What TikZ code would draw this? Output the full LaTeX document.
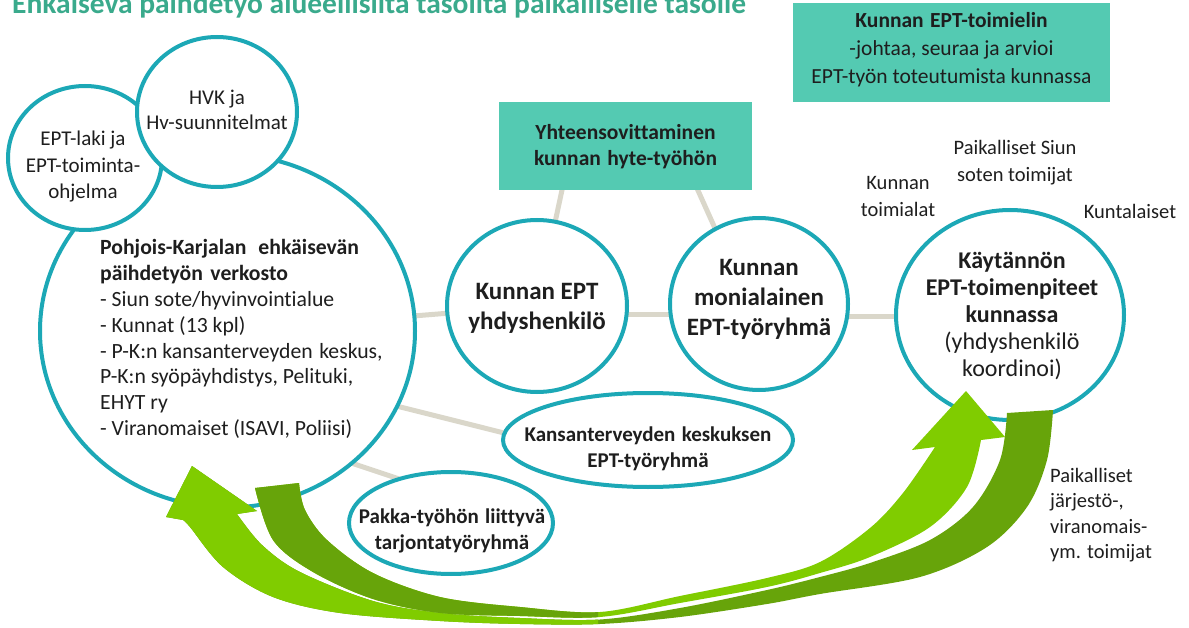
\documentclass[tikz,border=0pt]{standalone}
\usepackage{fontspec}
\setmainfont{Carlito}[Ligatures=NoCommon]
\usetikzlibrary{shapes.geometric,backgrounds}
\definecolor{cteal}{RGB}{28,168,182}
\definecolor{cbox}{RGB}{84,202,178}
\definecolor{cconn}{RGB}{218,215,202}
\definecolor{ctext}{RGB}{30,30,30}
\definecolor{ctitle}{RGB}{58,170,140}
\definecolor{glight}{RGB}{128,204,0}
\definecolor{gdark}{RGB}{103,164,10}
\newcommand{\myfs}[2]{\fontsize{#1}{#2}\selectfont}
\begin{document}
\begin{tikzpicture}[x=1pt,y=-1pt,
  circ/.style={ellipse, draw=cteal, line width=4pt, fill=white, inner sep=0pt},
  tbox/.style={rectangle, fill=cbox, inner sep=0pt},
  conn/.style={draw=cconn, line width=5pt},
  txt/.style={text=ctext, inner sep=0pt, align=center},
  lbl/.style={text=ctext, inner sep=0pt, align=center, font=\myfs{20.5}{27}}]
\useasboundingbox (0,0) rectangle (1189,628);
\clip (0,0) rectangle (1189,628);

% title (cut at the top, as in the reference)
\node[anchor=base west, inner sep=0pt, text=ctitle, font=\myfs{29.5}{34}\bfseries] (title) at (12,14)
  {Ehkäisevä päihdetyö alueellisilta tasoilta paikalliselle tasolle};

% shapes
\node[circ, minimum width=375, minimum height=353] (big) at (227.5,331) {};
\node[circ, minimum width=154, minimum height=144] (law) at (85,158) {};
\node[circ, minimum width=160, minimum height=150] (hvk) at (217,112) {};
\node[tbox, minimum width=253, minimum height=88] (yht) at (625.5,146) {};
\node[tbox, minimum width=317, minimum height=99] (toim) at (951.5,52.5) {};
\node[circ, minimum width=180, minimum height=172] (yhd) at (537,306) {};
\node[circ, minimum width=178, minimum height=172] (moni) at (759,304) {};
\node[circ, minimum width=228, minimum height=210] (kay) at (1010,315) {};
\node[circ, minimum width=290, minimum height=94] (kans) at (648,440) {};
\node[circ, minimum width=204, minimum height=102] (pakka) at (451,523) {};

% connectors
\begin{pgfonlayer}{background}
\draw[conn] (big.center) -- (yhd.center);
\draw[conn] ([shift={(0,9)}]yhd.center) -- ([shift={(0,11)}]moni.center);
\draw[conn] ([shift={(0,13)}]moni.center) -- ([shift={(0,2)}]kay.center);
\draw[conn] ([shift={(-54,0)}]yht.center) -- (yhd.center);
\draw[conn] ([shift={(52.5,0)}]yht.center) -- ([shift={(-10,0)}]moni.center);
\draw[conn] ([shift={(133,66)}]big.center) -- ([shift={(-88,7)}]kans.center);
\draw[conn] ([shift={(103,125)}]big.center) -- ([shift={(-31,-37)}]pakka.center);
\end{pgfonlayer}

% texts
\node[txt, font=\myfs{21}{26.5}] (lawt) at (83,167) {EPT-laki ja\\EPT-toiminta-\\ohjelma};
\node[txt, font=\myfs{21}{25}] (hvkt) at (217,110) {HVK ja\\Hv-suunnitelmat};
\node[txt, align=left, anchor=west, font=\myfs{21.7}{25.8}] (bigt) at (100,339)
  {\textbf{Pohjois-Karjalan\hspace{0.55em}ehkäisevän}\\
   \textbf{päihdetyön\hspace{0.35em}verkosto}\\
   - Siun sote/hyvinvointialue\\
   - Kunnat (13 kpl)\\
   - P-K:n kansanterveyden\hspace{0.3em}keskus,\\
   P-K:n syöpäyhdistys, Pelituki,\\
   EHYT ry\\
   - Viranomaiset (ISAVI, Poliisi)};
\node[txt, font=\myfs{21.5}{26}\bfseries] (yhtt) at (625.5,147) {Yhteensovittaminen\\kunnan\hspace{0.3em}hyte-työhön};
\node[txt, font=\myfs{21.5}{28}] (toimt) at (951.5,50) {\textbf{Kunnan\hspace{0.3em}EPT-toimielin}\\-johtaa, seuraa ja arvioi\\EPT-työn toteutumista kunnassa};
\node[txt, font=\myfs{25}{30}\bfseries] (yhdt) at (537,308) {Kunnan EPT\\yhdyshenkilö};
\node[txt, font=\myfs{25}{30}\bfseries] (monit) at (759,299) {Kunnan\\monialainen\\EPT-työryhmä};
\node[txt, font=\myfs{24}{27}] (kayt) at (1012,316) {\textbf{Käytännön}\\\textbf{EPT-toimenpiteet}\\\textbf{kunnassa}\\(yhdyshenkilö\\koordinoi)};
\node[txt, font=\myfs{21}{26}\bfseries] (kanst) at (648,449) {Kansanterveyden\hspace{0.3em}keskuksen\\EPT-työryhmä};
\node[txt, font=\myfs{21}{26}\bfseries] (pakkat) at (452,531) {Pakka-työhön\hspace{0.3em}liittyvä\\tarjontatyöryhmä};
\node[lbl] (l1) at (898,197) {Kunnan\\toimialat};
\node[lbl] (l2) at (1015,163) {Paikalliset Siun\\soten toimijat};
\node[lbl] (l3) at (1130,211) {Kuntalaiset};
\node[lbl, align=left, anchor=west, font=\myfs{20.5}{25.5}] (l4) at (1050,515) {Paikalliset\\järjestö-,\\viranomais-\\ym. toimijat};

% curved arrows
% outer band: tail at right (dark), head at left (light)
\path[save path=\bandB] (192,466) -- (257,511) -- (237,514)
  -- plot[smooth,tension=0.55] coordinates {(237,514) (262,545) (300,572) (373,601) (440,613) (520,618) (600,619.5) (680,608) (767,590) (820,577) (870,563) (930,540) (973,507) (1000,460) (1007,413)}
  -- (1053,410)
  -- plot[smooth,tension=0.55] coordinates {(1053,410) (1047,460) (1027,507) (987,547) (920,577) (820,594) (767,604) (680,617) (600,624) (520,624) (440,621) (340,613) (273,597) (223,567) (190,527) (183,520)}
  -- (166,517) -- cycle;
% inner band: tail at left (dark), head at right (light)
\path[save path=\bandA] (255,488) -- (299,483)
  -- plot[smooth,tension=0.55] coordinates {(299,483) (305,510) (327,540) (373,573) (440,597) (520,607) (600,612) (680,596) (767,578) (820,562) (870,528) (903,493) (935,447)}
  -- (912,450) -- (966,391) -- (1005,437) -- (981,440)
  -- plot[smooth,tension=0.55] coordinates {(981,440) (967,487) (930,527) (870,557) (820,573) (767,587) (680,603) (600,617) (520,616) (440,613) (373,599) (313,572) (273,540) (255,488)}
  -- cycle;
\fill[gdark, use path=\bandB];
\begin{scope}
  \clip (0,0) rectangle (598,628);
  \fill[glight, use path=\bandB];
\end{scope}
\fill[glight, use path=\bandA];
\begin{scope}
  \clip (0,0) rectangle (598,628);
  \fill[gdark, use path=\bandA];
\end{scope}
\end{tikzpicture}
\end{document}
